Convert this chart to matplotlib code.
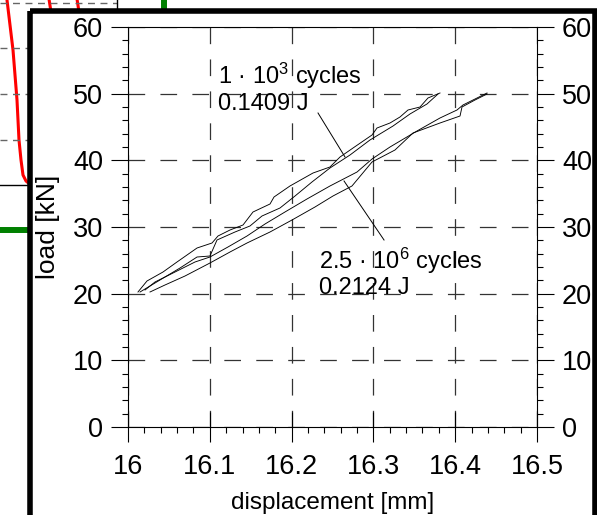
import matplotlib
matplotlib.use('Agg')
import matplotlib.pyplot as plt
from matplotlib.patches import Rectangle
from matplotlib.ticker import MultipleLocator

plt.rcParams['font.family'] = ['Liberation Sans', 'DejaVu Sans']
plt.rcParams['mathtext.fontset'] = 'custom'
plt.rcParams['mathtext.rm'] = 'Liberation Sans'
plt.rcParams['mathtext.it'] = 'Liberation Sans:italic'
plt.rcParams['lines.scale_dashes'] = False

# lazo de histeresis a 1e3 ciclos (desplazamiento mm, carga kN)
disp_1e3_a = [16.0122, 16.0232, 16.0428, 16.0599, 16.0844, 16.1027, 16.1100, 16.1247, 16.1406,
              16.1528, 16.1736, 16.1785, 16.1980, 16.2262, 16.2469, 16.2592, 16.2751, 16.2983,
              16.3044, 16.3203, 16.3325, 16.3423, 16.3570, 16.3667, 16.3814]
load_1e3_a = [20.25, 21.9, 23.25, 24.75, 26.85, 27.6, 28.65, 29.55, 30.3,
              32.25, 33.45, 34.5, 36.15, 38.1, 39.0, 40.5, 41.85, 43.8,
              44.85, 45.6, 46.5, 47.55, 48.0, 49.35, 50.1]
disp_1e3_b = [16.0147, 16.0269, 16.0452, 16.0636, 16.0844, 16.1002, 16.1088, 16.1308, 16.1491,
              16.1638, 16.1858, 16.2042, 16.2249, 16.2469, 16.2714, 16.2958, 16.3240, 16.3447,
              16.3655, 16.3790]
load_1e3_b = [20.25, 21.15, 22.5, 23.85, 25.5, 25.65, 28.05, 29.25, 30.15,
              31.65, 32.85, 34.65, 36.75, 38.85, 40.8, 43.05, 45.15, 46.95,
              48.45, 49.95]

# lazo a 2.5e6 ciclos
disp_25e6_a = [16.0208, 16.0330, 16.0575, 16.0819, 16.1002, 16.1222, 16.1455, 16.1675, 16.1919,
               16.2188, 16.2469, 16.2800, 16.2983, 16.3203, 16.3533, 16.3814, 16.4022, 16.4095,
               16.4267, 16.4389]
load_25e6_a = [20.55, 21.75, 23.25, 24.75, 25.5, 27.0, 28.65, 30.45, 32.25,
               34.2, 36.15, 38.25, 40.2, 42.0, 44.4, 46.35, 47.55, 48.3,
               49.35, 50.1]
disp_25e6_b = [16.0269, 16.0452, 16.0697, 16.1002, 16.1247, 16.1455, 16.1736, 16.2005, 16.2286,
               16.2506, 16.2738, 16.2983, 16.3264, 16.3484, 16.3814, 16.4059, 16.4083, 16.4242,
               16.4389]
load_25e6_b = [20.25, 21.3, 22.65, 24.6, 26.25, 27.6, 29.25, 31.05, 33.0,
               34.65, 36.15, 39.75, 41.55, 44.1, 45.6, 46.65, 48.0, 49.05,
               49.95]

# textos y lineas de referencia
txt_1e3 = ['1 · 10$^{3}$ cycles', '0.1409 J']
txt_25e6 = ['2.5 · 10$^{6}$ cycles', '0.2124 J']
txt_1e3_pos = [(16.110, 51.5), (16.110, 47.5)]
txt_25e6_pos = [(16.233, 23.7), (16.233, 20.0)]
leader_1e3 = ([16.2323, 16.2653], [47.1, 40.5])
leader_25e6 = ([16.2641, 16.3130], [36.9, 28.05])

# fragmentos del grafico de fondo (pixeles)
bg_red_x = [7, 13, 17, 19, 21, 23, 26, 32]
bg_red_y = [0, 50, 100, 140, 160, 175, 181, 186]
bg_red_top = [([49, 51], [-1, 12]), ([77, 79], [-1, 12])]
bg_dash_y = [48, 94, 140]
bg_black_y = 185
bg_green_y = 230
bg_green_x = 164

fig = plt.figure(figsize=(5.97, 5.15), dpi=100)

bg = fig.add_axes([0, 0, 1, 1])
bg.set_xlim(0, 597)
bg.set_ylim(515, 0)
bg.axis('off')
bg.plot(bg_red_x, bg_red_y, color='red', lw=2.2)
for xs, ys in bg_red_top:
    bg.plot(xs, ys, color='red', lw=2.2)
bg.plot([0, 117], [3, 3], color='0.4', lw=1, dashes=(5, 4))
for y in bg_dash_y:
    bg.plot([0, 32], [y, y], color='0.4', lw=1, dashes=(5, 4))
bg.plot([117, 117], [0, 12], color='black', lw=1)
bg.plot([0, 32], [bg_black_y, bg_black_y], color='black', lw=1)
bg.plot([0, 32], [bg_green_y, bg_green_y], color='green', lw=4.3)
bg.plot([bg_green_x, bg_green_x], [0, 12], color='green', lw=4.3)
bg.add_patch(Rectangle((29.5, 11), 575, 600, facecolor='white', edgecolor='none', zorder=10))

ax = fig.add_axes([128 / 597, 88 / 515, 409 / 597, 400 / 515])
ax.patch.set_alpha(0)

for xs, ys in [(disp_1e3_a, load_1e3_a), (disp_1e3_b, load_1e3_b),
               (disp_25e6_a, load_25e6_a), (disp_25e6_b, load_25e6_b)]:
    ax.plot(xs, ys, color='black', lw=0.65)

ax.plot(*leader_1e3, color='black', lw=0.7)
ax.plot(*leader_25e6, color='black', lw=0.7)
for t, (x, y) in zip(txt_1e3, txt_1e3_pos):
    ax.text(x, y, t, fontsize=17, va='baseline', ha='left')
for t, (x, y) in zip(txt_25e6, txt_25e6_pos):
    ax.text(x, y, t, fontsize=17, va='baseline', ha='left')

ax.set_xlim(16, 16.5)
ax.set_ylim(0, 60)
ax.xaxis.set_minor_locator(MultipleLocator(0.02))
ax.yaxis.set_major_locator(MultipleLocator(10))
ax.yaxis.set_minor_locator(MultipleLocator(2))
ax.set_xticks([16, 16.1, 16.2, 16.3, 16.4, 16.5])
ax.set_xticklabels(['16', '16.1', '16.2', '16.3', '16.4', '16.5'])

ax.tick_params(axis='x', which='major', direction='inout', length=21.5, width=0.8,
               labelsize=19.5, pad=9, top=False)
ax.tick_params(axis='x', which='minor', direction='out', length=4, width=0.8, top=False)
ax.tick_params(axis='y', which='major', direction='out', length=12, width=0.8,
               labelsize=19.5, pad=6, left=True, right=True, labelright=True)
ax.tick_params(axis='y', which='minor', direction='out', length=4.5, width=0.8,
               left=True, right=True)
for s in ax.spines.values():
    s.set_linewidth(0.8)

ax.grid(True, which='major', color='0.2', lw=0.9, dashes=(12, 11))

ax.set_xlabel('displacement [mm]', fontsize=17.5, labelpad=8)
ax.set_ylabel('load [kN]', fontsize=19, labelpad=9)

fig.add_artist(Rectangle((29.5, 11), 565, 600, fill=False, edgecolor='black', lw=4,
                         transform=bg.transData, zorder=5))

fig.savefig('out.png', dpi=100)
